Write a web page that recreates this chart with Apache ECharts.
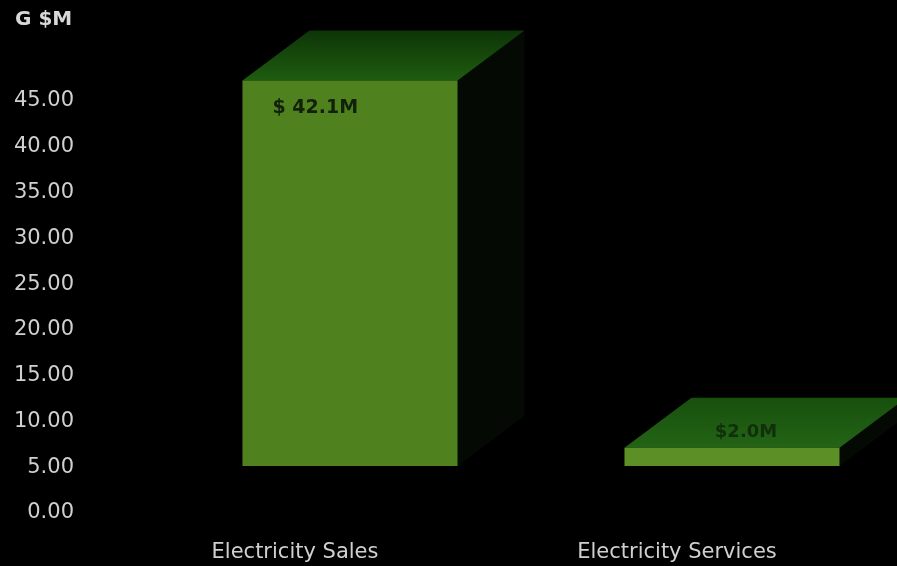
<!DOCTYPE html>
<html>
<head>
<meta charset="utf-8">
<script src="https://cdn.jsdelivr.net/npm/echarts@6/dist/echarts.min.js"></script>
<style>
html,body{margin:0;padding:0;background:#000;}
#c{width:897px;height:566px;}
</style>
</head>
<body>
<div id="c"></div>
<script>
// ---- data ----
const categories = ['Electricity Sales', 'Electricity Services'];
const values = [42.1, 2.0];
const valueLabels = ['$ 42.1M', '$2.0M'];
const yTicks = [0, 5, 10, 15, 20, 25, 30, 35, 40, 45];
const unitTitle = 'G $M';

// ---- 3D styling params (pixels) ----
const SHIFT_X = 55, SHIFT_Y = -47;   // bars sit behind the axis plane
const DX = 67, DY = -50;              // bar depth
const BAR_RATIO = 0.563;
const FONT = '"DejaVu Sans"';

const chart = echarts.init(document.getElementById('c'), null, {renderer: 'canvas'});

const frontColors = ['#4f811f', '#5c8f26'];
const topFront = ['#1f5c10', '#246416'];
const topBack = ['#0d3507', '#17500d'];

chart.setOption({
  backgroundColor: '#000',
  animation: false,
  title: {
    text: unitTitle, left: 10, top: 5,
    textStyle: {color: '#d8d8d8', fontFamily: FONT, fontSize: 20, fontWeight: 'bold'}
  },
  grid: {left: 104, right: 29, top: 101, bottom: 53},
  xAxis: {
    type: 'category', data: categories,
    axisLine: {show: false}, axisTick: {show: false},
    axisLabel: {color: '#d0d0d0', fontFamily: FONT, fontSize: 21, margin: 29}
  },
  yAxis: {
    type: 'value', min: yTicks[0], max: yTicks[yTicks.length - 1], interval: 5,
    splitLine: {show: false}, axisLine: {show: false}, axisTick: {show: false},
    axisLabel: {color: '#d0d0d0', fontFamily: FONT, fontSize: 21, margin: 30,
      formatter: v => v.toFixed(2)}
  },
  series: [{
    type: 'custom',
    clip: false,
    data: values.map((v, i) => [i, v]),
    renderItem: function (params, api) {
      const i = api.value(0), v = api.value(1);
      const base = api.coord([i, 0]);
      const top = api.coord([i, v]);
      const w = api.size([1, 0])[0] * BAR_RATIO;
      const x0 = base[0] + SHIFT_X - w / 2, x1 = x0 + w;
      const yb = base[1] + SHIFT_Y, yt = top[1] + SHIFT_Y;
      const h = yb - yt;
      const children = [
        {type: 'polygon', shape: {points: [[x1, yt], [x1 + DX, yt + DY], [x1 + DX, yb + DY], [x1, yb]]},
          style: {fill: '#040a03'}},
        {type: 'polygon', shape: {points: [[x0, yt], [x1, yt], [x1 + DX, yt + DY], [x0 + DX, yt + DY]]},
          style: {fill: new echarts.graphic.LinearGradient(0, 1, 0, 0, [
            {offset: 0, color: topFront[i]}, {offset: 1, color: topBack[i]}])}},
        {type: 'rect', shape: {x: x0, y: yt, width: w, height: h},
          style: {fill: frontColors[i]}}
      ];
      if (h > 60) {
        children.push({type: 'text', x: x0 + 30, y: yt + 28,
          style: {text: valueLabels[i], fill: '#12220a', font: 'bold 19px ' + FONT,
            verticalAlign: 'middle', align: 'left'}});
      } else {
        children.push({type: 'text', x: x0 + w / 2 + 14, y: yt - 15,
          style: {text: valueLabels[i], fill: '#0e2a0a', opacity: 0.9, font: 'bold 18px ' + FONT,
            verticalAlign: 'middle', align: 'center'}});
      }
      return {type: 'group', children: children};
    }
  }]
});
</script>
</body>
</html>
